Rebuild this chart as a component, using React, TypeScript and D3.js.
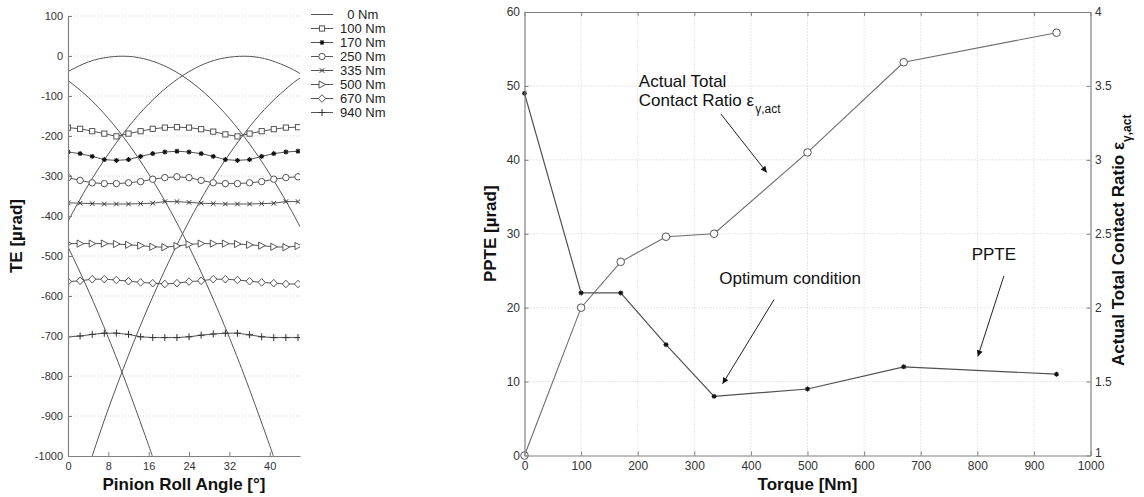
import React, { useRef, useEffect } from 'react';
import * as d3 from 'd3';

const FONT = 'Arial, "Liberation Sans", Helvetica, sans-serif';
const AXIS = '#808080';
const LINE = '#555';
const GRID = '#cfcfcf';

// ---------- left chart: TE vs pinion roll angle ----------
const angleTicks = [0, 8, 16, 24, 32, 40];
const teTicks = [100, 0, -100, -200, -300, -400, -500, -600, -700, -800, -900, -1000];

// 0 Nm (unloaded) single-flank arcs
const arcAx = [0, 4, 8, 12, 16, 20, 24, 28, 32, 36, 40, 44, 46];
const arcAy = [-39, -15, -3, -1, -10, -30, -61, -103, -156, -220, -295, -380, -427];
const arcBx = [0, 4, 8, 12, 16, 20, 24, 28, 32, 36, 40, 44, 46];
const arcBy = [-413, -323, -245, -177, -120, -74, -39, -15, -3, -1, -10, -30, -44];
const arcCx = [0, 4, 8, 12, 16, 20, 24, 28, 32, 36, 40, 40.7];
const arcCy = [-61, -103, -156, -220, -295, -380, -477, -585, -704, -834, -974, -1000];
const arcDx = [4.8, 8, 12, 16, 20, 24, 28, 32, 36, 40, 44, 46];
const arcDy = [-1000, -882, -748, -625, -514, -413, -323, -245, -177, -120, -74, -55];
const arcEx = [0, 4, 8, 12, 16, 16.7];
const arcEy = [-477, -585, -704, -834, -974, -1000];

// loaded cases, sampled every 2.4 deg
const rollAngle = [0, 2.4, 4.8, 7.2, 9.6, 12, 14.4, 16.8, 19.2, 21.6, 24, 26.4, 28.8, 31.2, 33.6, 36, 38.4, 40.8, 43.2, 45.6];
const te100 = [-179, -182, -188, -194, -201, -194, -188, -182, -179, -178, -179, -183, -189, -196, -201, -194, -188, -183, -179, -178];
const te170 = [-240, -244, -251, -259, -261, -259, -251, -244, -240, -238, -240, -244, -251, -259, -261, -259, -251, -244, -240, -238];
const te250 = [-304, -311, -317, -319, -319, -317, -314, -308, -304, -302, -304, -311, -317, -319, -319, -317, -314, -308, -304, -302];
const te335 = [-367, -368, -369, -370, -370, -370, -369, -368, -364, -364, -366, -368, -369, -370, -370, -370, -369, -368, -364, -364];
const te500 = [-469, -469, -469, -469, -470, -472, -474, -477, -478, -475, -471, -469, -469, -469, -470, -472, -474, -477, -478, -475];
const te670 = [-564, -562, -558, -558, -560, -563, -566, -568, -570, -568, -564, -562, -558, -558, -560, -563, -566, -568, -570, -570];
const te940 = [-702, -700, -696, -693, -693, -696, -702, -704, -704, -704, -702, -698, -695, -693, -693, -697, -702, -704, -704, -704];

const legendLabels = ['0 Nm', '100 Nm', '170 Nm', '250 Nm', '335 Nm', '500 Nm', '670 Nm', '940 Nm'];
const legendMarkers = ['none', 'square', 'star', 'circle', 'cross', 'triangle', 'diamond', 'plus'];

// ---------- right chart: PPTE and contact ratio vs torque ----------
const torqueTicks = [0, 100, 200, 300, 400, 500, 600, 700, 800, 900, 1000];
const ppteTicks = [0, 10, 20, 30, 40, 50, 60];
const crTicks = [1, 1.5, 2, 2.5, 3, 3.5, 4];
const torques = [0, 100, 170, 250, 335, 500, 670, 940];
const ppte = [49, 22, 22, 15, 8, 9, 12, 11];
const contactRatio = [1.0, 2.0, 2.31, 2.48, 2.5, 3.05, 3.66, 3.86];

const plain = (d: any) => String(d);

function drawMarker(g: any, type: string, x: number, y: number) {
  const s = '#444';
  if (type === 'square') {
    g.append('rect').attr('x', x - 2.6).attr('y', y - 2.6).attr('width', 5.2).attr('height', 5.2)
      .attr('fill', '#fff').attr('stroke', s).attr('stroke-width', 0.9);
  } else if (type === 'circle') {
    g.append('circle').attr('cx', x).attr('cy', y).attr('r', 3.2)
      .attr('fill', '#fff').attr('stroke', s).attr('stroke-width', 0.9);
  } else if (type === 'triangle') {
    g.append('path').attr('d', `M${x - 3},${y - 3.6}L${x + 3.6},${y}L${x - 3},${y + 3.6}Z`)
      .attr('fill', '#fff').attr('stroke', s).attr('stroke-width', 0.9);
  } else if (type === 'diamond') {
    g.append('path').attr('d', `M${x},${y - 3.8}L${x + 3.6},${y}L${x},${y + 3.8}L${x - 3.6},${y}Z`)
      .attr('fill', '#fff').attr('stroke', s).attr('stroke-width', 0.9);
  } else if (type === 'cross') {
    g.append('path').attr('d', `M${x - 2.3},${y - 2.3}L${x + 2.3},${y + 2.3}M${x - 2.3},${y + 2.3}L${x + 2.3},${y - 2.3}`)
      .attr('stroke', '#333').attr('stroke-width', 1);
  } else if (type === 'plus') {
    g.append('path').attr('d', `M${x - 3.5},${y}L${x + 3.5},${y}M${x},${y - 3.5}L${x},${y + 3.5}`)
      .attr('stroke', '#333').attr('stroke-width', 1);
  } else if (type === 'star') {
    g.append('path')
      .attr('d', `M${x - 2.5},${y}L${x + 2.5},${y}M${x},${y - 2.5}L${x},${y + 2.5}M${x - 1.8},${y - 1.8}L${x + 1.8},${y + 1.8}M${x - 1.8},${y + 1.8}L${x + 1.8},${y - 1.8}`)
      .attr('stroke', '#111').attr('stroke-width', 1.1);
  }
}

function styleAxis(g: any, size: number) {
  g.select('.domain').attr('stroke', AXIS).attr('stroke-width', 1.2);
  g.selectAll('.tick line').attr('stroke', AXIS);
  g.selectAll('.tick text').attr('fill', '#333').attr('font-size', size).attr('font-family', FONT);
}

export default function App() {
  const svgRef = useRef<SVGSVGElement>(null);

  useEffect(() => {
    const svg = d3.select(svgRef.current);
    svg.selectAll('*').remove();

    const defs = svg.append('defs');
    defs.append('clipPath').attr('id', 'clipL').append('rect')
      .attr('x', 68).attr('y', 16).attr('width', 232).attr('height', 440);
    defs.append('marker').attr('id', 'arrowhead').attr('viewBox', '0 0 10 10')
      .attr('refX', 10).attr('refY', 5).attr('markerWidth', 9).attr('markerHeight', 6)
      .attr('markerUnits', 'userSpaceOnUse').attr('orient', 'auto')
      .append('path').attr('d', 'M0,0L10,5L0,10Z').attr('fill', '#111');

    // ===== left chart =====
    const xL = d3.scaleLinear().domain([0, 46]).range([68, 300]);
    const yL = d3.scaleLinear().domain([-1000, 100]).range([456, 16]);
    const left = svg.append('g');

    left.selectAll('line.grid').data(teTicks.filter(t => t > -1000)).enter().append('line')
      .attr('x1', xL(0)).attr('x2', xL(46)).attr('y1', d => yL(d)).attr('y2', d => yL(d))
      .attr('stroke', GRID).attr('stroke-dasharray', '1,2');

    const plotL = left.append('g').attr('clip-path', 'url(#clipL)');
    const arcLine = d3.line<[number, number]>().x(d => xL(d[0])).y(d => yL(d[1])).curve(d3.curveNatural);
    const arcs: [number[], number[]][] = [[arcAx, arcAy], [arcBx, arcBy], [arcCx, arcCy], [arcDx, arcDy], [arcEx, arcEy]];
    arcs.forEach(([xs, ys]) => {
      plotL.append('path').attr('d', arcLine(xs.map((x, i) => [x, ys[i]] as [number, number])))
        .attr('fill', 'none').attr('stroke', LINE).attr('stroke-width', 1);
    });

    const loaded = [te100, te170, te250, te335, te500, te670, te940];
    const teLine = d3.line<number>().x((_, i) => xL(rollAngle[i])).y(d => yL(d));
    loaded.forEach((vals, k) => {
      plotL.append('path').attr('d', teLine(vals)).attr('fill', 'none')
        .attr('stroke', LINE).attr('stroke-width', 1);
      const mg = plotL.append('g');
      vals.forEach((v, i) => drawMarker(mg, legendMarkers[k + 1], xL(rollAngle[i]), yL(v)));
    });

    const axL = left.append('g').attr('transform', `translate(${xL(0)},0)`)
      .call(d3.axisLeft(yL).tickValues(teTicks).tickFormat(plain).tickSize(-4).tickSizeOuter(0).tickPadding(5));
    styleAxis(axL, 11);
    const axB = left.append('g').attr('transform', `translate(0,${yL(-1000)})`)
      .call(d3.axisBottom(xL).tickValues(angleTicks).tickFormat(plain).tickSize(-4).tickSizeOuter(0).tickPadding(6));
    styleAxis(axB, 11);

    left.append('text').attr('x', (xL(0) + xL(46)) / 2).attr('y', 490).attr('text-anchor', 'middle')
      .attr('font-family', FONT).attr('font-size', 17).attr('font-weight', 'bold').attr('fill', '#111')
      .text('Pinion Roll Angle [°]');
    left.append('text').attr('transform', `translate(22,${(yL(100) + yL(-1000)) / 2}) rotate(-90)`)
      .attr('text-anchor', 'middle').attr('font-family', FONT).attr('font-size', 17)
      .attr('font-weight', 'bold').attr('fill', '#111').text('TE [µrad]');

    // legend
    const lg = left.append('g');
    legendLabels.forEach((lab, i) => {
      const cy = 14.5 + i * 14;
      lg.append('line').attr('x1', 311).attr('x2', 333).attr('y1', cy).attr('y2', cy)
        .attr('stroke', LINE).attr('stroke-width', 1);
      drawMarker(lg, legendMarkers[i], 322, cy);
      lg.append('text').attr('x', lab.length < 5 ? 347.2 : 340).attr('y', cy + 4.6)
        .attr('font-family', FONT).attr('font-size', 13).attr('fill', '#222').text(lab);
    });

    // ===== right chart =====
    const xR = d3.scaleLinear().domain([0, 1000]).range([524.5, 1090.5]);
    const yRL = d3.scaleLinear().domain([0, 60]).range([455.5, 12]);
    const yRR = d3.scaleLinear().domain([1, 4]).range([455.5, 12]);
    const right = svg.append('g');

    right.selectAll('line.vgrid').data(torqueTicks.slice(1, -1)).enter().append('line')
      .attr('x1', d => xR(d)).attr('x2', d => xR(d)).attr('y1', yRL(0)).attr('y2', yRL(60))
      .attr('stroke', GRID).attr('stroke-dasharray', '1,2');
    right.selectAll('line.hgrid').data(ppteTicks.slice(1, -1)).enter().append('line')
      .attr('x1', xR(0)).attr('x2', xR(1000)).attr('y1', d => yRL(d)).attr('y2', d => yRL(d))
      .attr('stroke', GRID).attr('stroke-dasharray', '1,2');

    const crLine = d3.line<number>().x((_, i) => xR(torques[i])).y(d => yRR(d));
    right.append('path').attr('d', crLine(contactRatio)).attr('fill', 'none')
      .attr('stroke', '#6e6e6e').attr('stroke-width', 1.1);
    const ppLine = d3.line<number>().x((_, i) => xR(torques[i])).y(d => yRL(d));
    right.append('path').attr('d', ppLine(ppte)).attr('fill', 'none')
      .attr('stroke', '#505050').attr('stroke-width', 1.2);

    ppte.forEach((v, i) => drawMarker(right, 'star', xR(torques[i]), yRL(v)));
    contactRatio.forEach((v, i) => {
      right.append('circle').attr('cx', xR(torques[i])).attr('cy', yRR(v)).attr('r', 3.8)
        .attr('fill', '#fff').attr('stroke', '#555').attr('stroke-width', 1);
    });

    const axRL = right.append('g').attr('transform', `translate(${xR(0)},0)`)
      .call(d3.axisLeft(yRL).tickValues(ppteTicks).tickFormat(plain).tickSize(-4).tickSizeOuter(0).tickPadding(4.5));
    styleAxis(axRL, 12);
    const axRB = right.append('g').attr('transform', `translate(0,${yRL(0)})`)
      .call(d3.axisBottom(xR).tickValues(torqueTicks).tickFormat(plain).tickSize(-4).tickSizeOuter(0).tickPadding(6));
    styleAxis(axRB, 12);
    const axRT = right.append('g').attr('transform', `translate(0,${yRL(60)})`)
      .call(d3.axisTop(xR).tickValues(torqueTicks).tickSize(-4).tickSizeOuter(0).tickFormat(() => ''));
    styleAxis(axRT, 12);
    const axRR = right.append('g').attr('transform', `translate(${xR(1000)},0)`)
      .call(d3.axisRight(yRR).tickValues(crTicks).tickSize(-4).tickSizeOuter(0).tickPadding(4.5)
        .tickFormat(plain));
    styleAxis(axRR, 12);
    // lift the bottom "1" a little so it clears the "1000" below it
    axRR.selectAll('.tick text').filter((d: any) => d === 1).attr('dy', '0.05em');

    right.append('text').attr('x', (xR(0) + xR(1000)) / 2).attr('y', 490).attr('text-anchor', 'middle')
      .attr('font-family', FONT).attr('font-size', 17).attr('font-weight', 'bold').attr('fill', '#111')
      .text('Torque [Nm]');
    right.append('text').attr('transform', `translate(496,${(yRL(0) + yRL(60)) / 2}) rotate(-90)`)
      .attr('text-anchor', 'middle').attr('font-family', FONT).attr('font-size', 17)
      .attr('font-weight', 'bold').attr('fill', '#111').text('PPTE [µrad]');
    const rt = right.append('text').attr('transform', `translate(1124,366) rotate(-90)`)
      .attr('font-family', FONT).attr('fill', '#111');
    rt.append('tspan').attr('font-size', 17).attr('font-weight', 'bold').text('Actual Total Contact Ratio ε');
    rt.append('tspan').attr('font-size', 12).attr('font-weight', 'bold').attr('dy', 7).text('γ,act');

    // annotations (data coordinates on torque / PPTE axes)
    const ann = right.append('g').attr('font-family', FONT).attr('fill', '#111');
    const t1 = ann.append('text').attr('x', xR(202)).attr('y', yRL(49.9)).attr('font-size', 17);
    t1.append('tspan').attr('x', xR(202)).text('Actual Total');
    t1.append('tspan').attr('x', xR(202)).attr('dy', 19).text('Contact Ratio ε');
    t1.append('tspan').attr('font-size', 12).attr('dy', 7).attr('dx', 1).text('γ,act');
    ann.append('text').attr('x', xR(344)).attr('y', yRL(23.2)).attr('font-size', 17).text('Optimum condition');
    ann.append('text').attr('x', xR(790)).attr('y', yRL(26.5)).attr('font-size', 17).text('PPTE');

    const arrows: [number, number, number, number][] = [
      [347, 46.2, 428, 38.3],
      [441, 21.1, 350, 9.7],
      [847, 24.3, 801, 13.4],
    ];
    arrows.forEach(([x1, y1, x2, y2]) => {
      ann.append('line').attr('x1', xR(x1)).attr('y1', yRL(y1)).attr('x2', xR(x2)).attr('y2', yRL(y2))
        .attr('stroke', '#222').attr('stroke-width', 1).attr('marker-end', 'url(#arrowhead)');
    });
  }, []);

  return (
    <svg ref={svgRef} width={1144} height={497}
      style={{ position: 'absolute', left: 0, top: 0, background: '#fff' }} />
  );
}
